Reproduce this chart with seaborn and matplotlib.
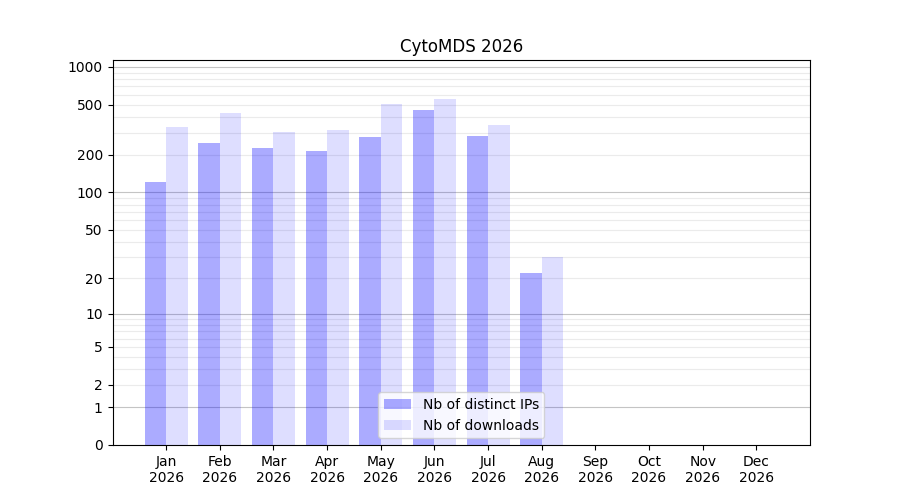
import numpy as np
import pandas as pd
import seaborn as sns
from matplotlib import pyplot as plt

months = ["Jan", "Feb", "Mar", "Apr", "May", "Jun", "Jul", "Aug", "Sep", "Oct", "Nov", "Dec"]
month_labels = [m + "\n2026" for m in months]
distinct_ips = [122, 250, 228, 216, 279, 457, 284, 22, 0, 0, 0, 0]
downloads = [331, 433, 306, 317, 504, 559, 348, 30, 0, 0, 0, 0]
ytick_vals = [0, 1, 2, 5, 10, 20, 50, 100, 200, 500, 1000]

df = pd.DataFrame({
    "month": months * 2,
    "count": distinct_ips + downloads,
    "kind": ["Nb of distinct IPs"] * 12 + ["Nb of downloads"] * 12,
})

fig, ax = plt.subplots(figsize=(9, 5), dpi=100)

# grid lines: decades darker, in-between values lighter
for d in [1, 10, 100]:
    for k in range(2, 10):
        ax.axhline(d * k, color="#ebebeb", lw=0.8, zorder=0)
for d in [1, 10, 100, 1000]:
    ax.axhline(d, color="#c4c4c4", lw=0.8, zorder=0)

sns.barplot(data=df, x="month", y="count", hue="kind", order=months,
            palette=["blue", "blue"], saturation=1, width=0.8, legend=False,
            ax=ax, zorder=2)

for cont, a in zip(ax.containers, [0.33, 0.13]):
    for p in cont:
        p.set_alpha(a)
        p.set_linewidth(0)

ax.set_yscale("function", functions=(lambda v: np.log10(1 + np.clip(v, 0, None)),
                                     lambda v: 10 ** v - 1))
ax.set_ylim(0, 1135)
ax.set_yticks(ytick_vals)
ax.set_yticklabels([str(v) for v in ytick_vals])
ax.yaxis.set_minor_locator(plt.NullLocator())
ax.set_xlim(-1, 12)
ax.set_xticks(range(12))
ax.set_xticklabels(month_labels)
ax.set_xlabel("")
ax.set_ylabel("")
ax.set_title("CytoMDS 2026")

ax.legend(ax.containers, ["Nb of distinct IPs", "Nb of downloads"], loc="lower center")

fig.savefig("out.png", dpi=100)
